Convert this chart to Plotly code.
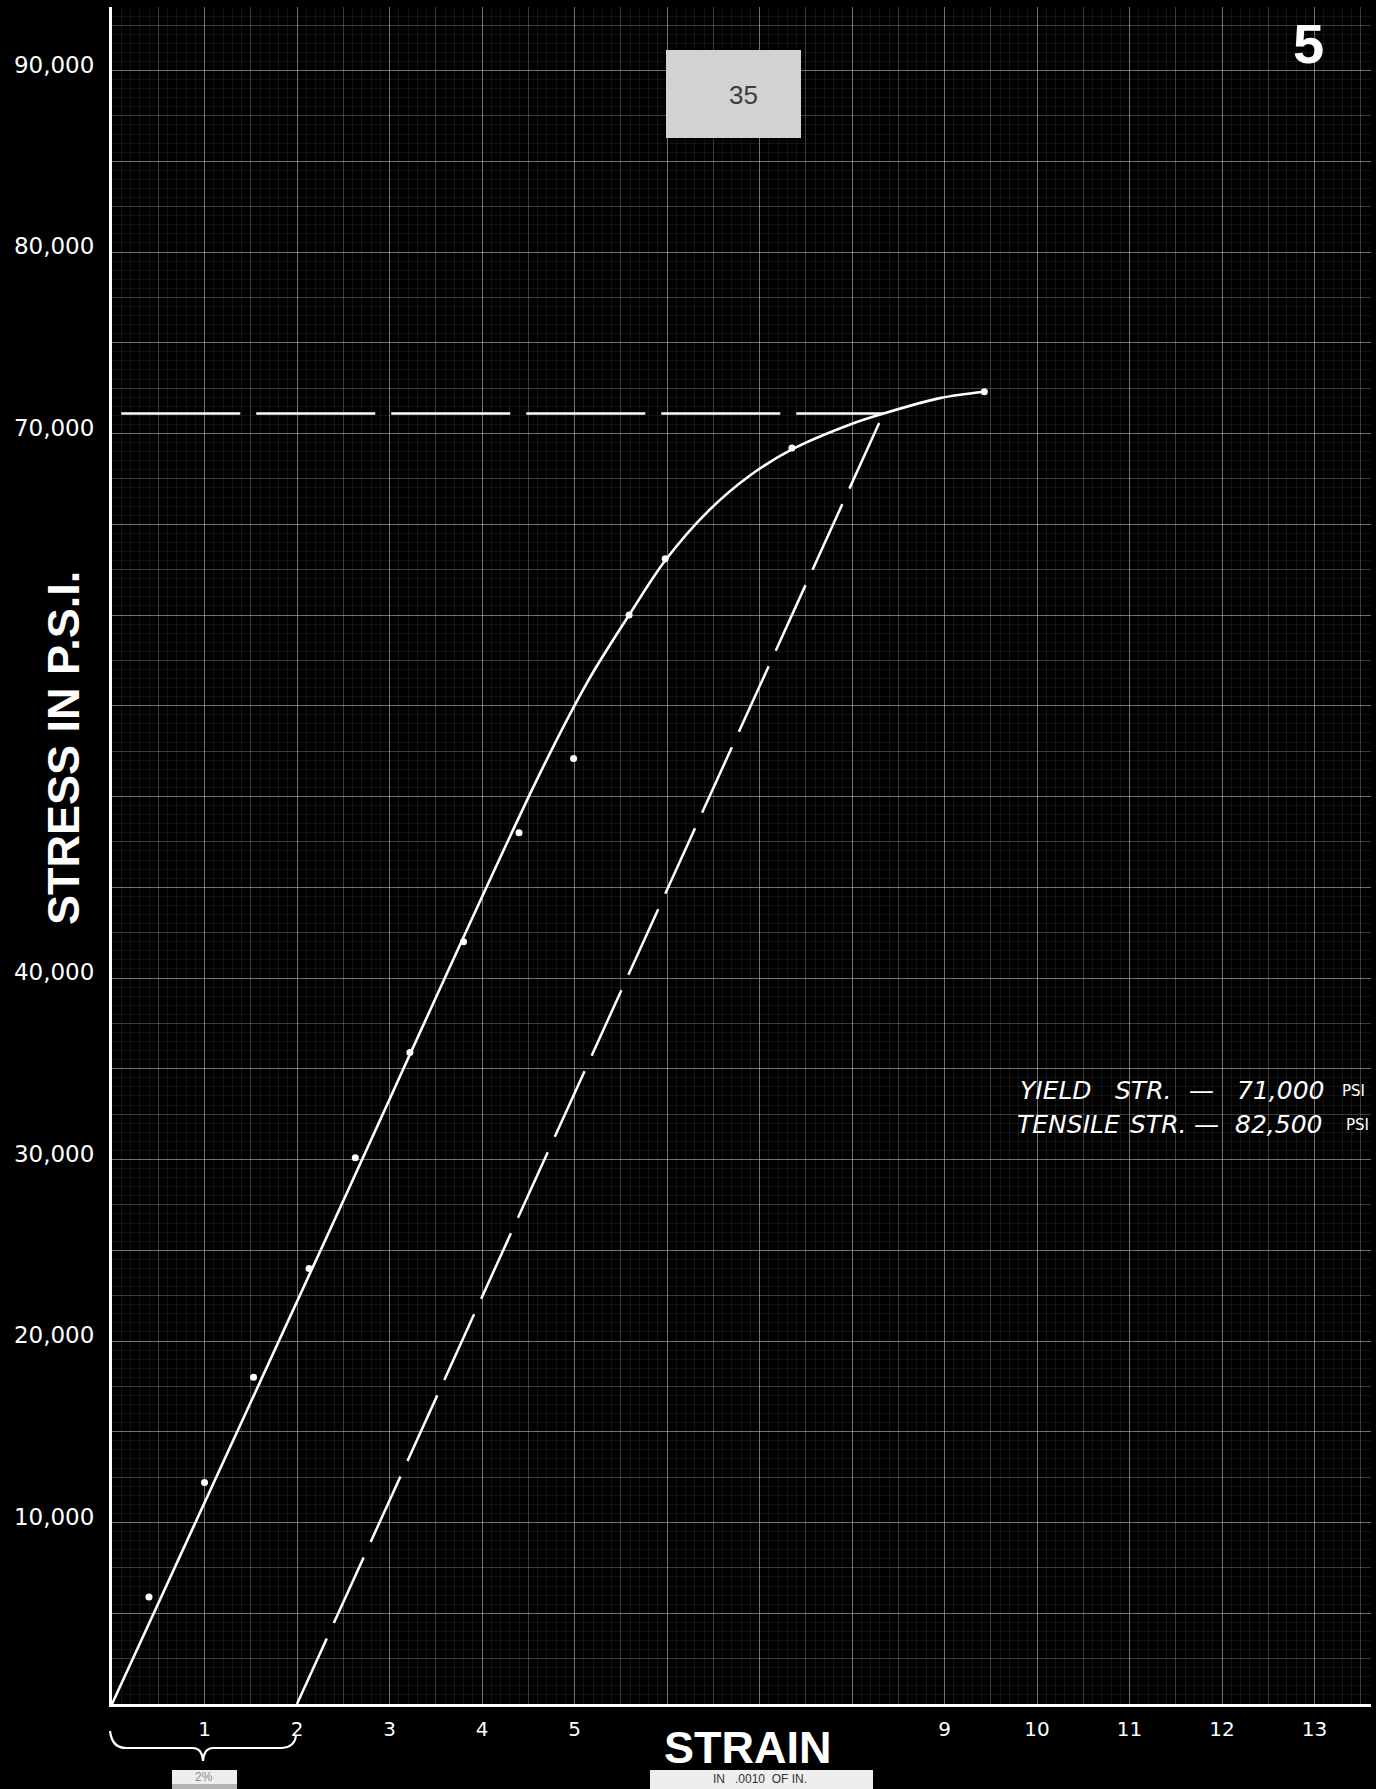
import plotly.graph_objects as go

# ---------------- data ----------------
# measured test points (strain in .0010 in., stress in psi)
point_strain = [0.40, 1.00, 1.53, 2.13, 2.63, 3.22, 3.80, 4.40, 4.99, 5.59, 5.98, 7.35, 9.43]
point_stress = [5900, 12200, 18000, 24000, 30100, 35900, 42000, 48000, 52100, 60000, 63100, 69200, 72300]

# faired stress-strain curve
curve_strain = [0.0, 2.30, 4.60, 5.15, 5.59, 5.98, 6.44, 6.90, 7.36, 7.98, 8.34, 8.95, 9.43]
curve_stress = [0, 25500, 51000, 56400, 60000, 63000, 65700, 67700, 69150, 70500, 71100, 71950, 72300]

# 0.2% offset line and yield level
offset_strain = [2.0, 8.34]
offset_stress = [0, 71100]
yield_strain = [0.1, 8.34]
yield_stress = [71100, 71100]

# tick labels
x_tickvals = [1, 2, 3, 4, 5, 9, 10, 11, 12, 13]
x_ticktext = ["1", "2", "3", "4", "5", "9", "10", "11", "12", "13"]
y_tickvals = [10000, 20000, 30000, 40000, 70000, 80000, 90000]
y_ticktext = ["10,000", "20,000", "30,000", "40,000", "70,000", "80,000", "90,000"]

X_RANGE = [0, 13.61]
Y_RANGE = [0, 93500]

# ---------------- layout geometry ----------------
W, H = 1376, 1789
ML, MR, MT, MB = 112, 5, 7, 85
PW = W - ML - MR
PH = H - MT - MB


def fx(px):
    return (px - ML) / PW


def fy(py):
    return (H - MB - py) / PH


WHITE = "#ffffff"
MAJOR = "rgba(200,200,200,0.44)"
MEDIUM = "rgba(200,200,200,0.22)"
FINE = "rgba(200,200,200,0.09)"

fig = go.Figure()

# invisible traces to create the overlay grid axes
fig.add_trace(go.Scatter(x=[None], y=[None], xaxis="x2", yaxis="y2", showlegend=False, hoverinfo="skip"))
fig.add_trace(go.Scatter(x=[None], y=[None], xaxis="x3", yaxis="y3", showlegend=False, hoverinfo="skip"))

# yield level (dashed horizontal)
fig.add_trace(go.Scatter(
    x=yield_strain, y=yield_stress, mode="lines",
    line=dict(color=WHITE, width=2.5, dash="119px,16px"),
    showlegend=False, hoverinfo="skip"))

# offset line (dashed)
fig.add_trace(go.Scatter(
    x=offset_strain, y=offset_stress, mode="lines",
    line=dict(color=WHITE, width=2.5, dash="72px,17px"),
    showlegend=False, hoverinfo="skip"))

# faired curve
fig.add_trace(go.Scatter(
    x=curve_strain, y=curve_stress, mode="lines",
    line=dict(color=WHITE, width=2.6, shape="spline", smoothing=0.9),
    showlegend=False))

# measured points
fig.add_trace(go.Scatter(
    x=point_strain, y=point_stress, mode="markers",
    marker=dict(color=WHITE, size=7),
    showlegend=False))

label_font = dict(family="DejaVu Sans", size=23, color=WHITE)

fig.update_layout(
    width=W, height=H,
    margin=dict(l=ML, r=MR, t=MT, b=MB, pad=0),
    paper_bgcolor="#000000",
    plot_bgcolor="#000000",
    showlegend=False,
    xaxis=dict(
        range=X_RANGE, tickvals=x_tickvals, ticktext=x_ticktext,
        showgrid=False, zeroline=False,
        showline=True, linecolor=WHITE, linewidth=3,
        ticks="", ticklabelstandoff=5,
        tickfont=dict(family="DejaVu Sans", size=20, color=WHITE),
    ),
    yaxis=dict(
        range=Y_RANGE, tickvals=y_tickvals, ticktext=y_ticktext,
        showgrid=False, zeroline=False,
        showline=True, linecolor=WHITE, linewidth=3,
        ticks="", ticklabelstandoff=10, ticklabelshift=-6,
        tickfont=label_font,
    ),
    # major + fine grid
    xaxis2=dict(
        overlaying="x", anchor="y2", range=X_RANGE, tick0=0, dtick=1,
        showgrid=True, gridcolor=MAJOR, gridwidth=1.3,
        minor=dict(dtick=0.1, showgrid=True, gridcolor=FINE, gridwidth=1),
        showticklabels=False, ticks="", showline=False, zeroline=False,
    ),
    yaxis2=dict(
        overlaying="y", anchor="x2", range=Y_RANGE, tick0=0, dtick=5000,
        showgrid=True, gridcolor=MAJOR, gridwidth=1.3,
        minor=dict(dtick=500, showgrid=True, gridcolor=FINE, gridwidth=1),
        showticklabels=False, ticks="", showline=False, zeroline=False,
    ),
    # medium grid
    xaxis3=dict(
        overlaying="x", anchor="y3", range=X_RANGE, tick0=0, dtick=0.5,
        showgrid=True, gridcolor=MEDIUM, gridwidth=1,
        showticklabels=False, ticks="", showline=False, zeroline=False,
    ),
    yaxis3=dict(
        overlaying="y", anchor="x3", range=Y_RANGE, tick0=0, dtick=2500,
        showgrid=True, gridcolor=MEDIUM, gridwidth=1,
        showticklabels=False, ticks="", showline=False, zeroline=False,
    ),
)

shapes = []
annotations = []

# "35" stamp box
shapes.append(dict(type="rect", xref="paper", yref="paper",
                   x0=fx(666), x1=fx(801), y0=fy(138), y1=fy(50),
                   fillcolor="#d2d2d2", line=dict(width=0), layer="above"))
annotations.append(dict(text="35", xref="paper", yref="paper", x=fx(743), y=fy(95),
                        showarrow=False, xanchor="center", yanchor="middle",
                        font=dict(family="Liberation Sans", size=26, color="#3c3c3c")))

# sheet number "5"
annotations.append(dict(text="<b>5</b>", xref="paper", yref="paper", x=fx(1308), y=fy(43),
                        showarrow=False, xanchor="center", yanchor="middle",
                        font=dict(family="Liberation Sans", size=56, color=WHITE)))

# axis titles
annotations.append(dict(text="<b>STRESS IN P.S.I.</b>", xref="paper", yref="paper",
                        x=fx(63), y=fy(748), textangle=-90, showarrow=False,
                        xanchor="center", yanchor="middle",
                        font=dict(family="Liberation Sans", size=45, color=WHITE)))
annotations.append(dict(text="<b>STRAIN</b>", xref="paper", yref="paper",
                        x=fx(748), y=fy(1747), showarrow=False,
                        xanchor="center", yanchor="middle",
                        font=dict(family="Liberation Sans", size=45, color=WHITE)))

# strip under STRAIN: "IN .0010 OF IN."
shapes.append(dict(type="rect", xref="paper", yref="paper",
                   x0=fx(650), x1=fx(873), y0=fy(1789), y1=fy(1770),
                   fillcolor="#eeeeee", line=dict(width=0)))
annotations.append(dict(text="IN&nbsp;&nbsp;&nbsp;.0010&nbsp;&nbsp;OF IN.", xref="paper", yref="paper",
                        x=fx(760), y=fy(1779), showarrow=False,
                        xanchor="center", yanchor="middle",
                        font=dict(family="Liberation Sans", size=12, color="#333333")))

# "2%" strip under bracket
shapes.append(dict(type="rect", xref="paper", yref="paper",
                   x0=fx(172), x1=fx(237), y0=fy(1789), y1=fy(1770),
                   fillcolor="#eeeeee", line=dict(width=0)))
shapes.append(dict(type="rect", xref="paper", yref="paper",
                   x0=fx(172), x1=fx(237), y0=fy(1789), y1=fy(1784),
                   fillcolor="#b4b4b4", line=dict(width=0)))
annotations.append(dict(text="2%", xref="paper", yref="paper",
                        x=fx(204), y=fy(1777), showarrow=False,
                        xanchor="center", yanchor="middle",
                        font=dict(family="Liberation Sans", size=12, color="#8a8a8a")))

# curly bracket spanning strain 0..2 below the axis
def P(px, py):
    return f"{fx(px):.5f},{fy(py):.5f}"

brace = ("M " + P(110, 1731) + " Q " + P(112, 1748) + " " + P(126, 1748) +
         " L " + P(193, 1748) + " Q " + P(202, 1748) + " " + P(203, 1761) +
         " Q " + P(204, 1748) + " " + P(213, 1748) +
         " L " + P(282, 1748) + " Q " + P(295, 1747) + " " + P(296, 1735))
shapes.append(dict(type="path", xref="paper", yref="paper", path=brace,
                   line=dict(color=WHITE, width=2.2)))

# yield / tensile notes
note_font = dict(family="DejaVu Sans", size=25, color=WHITE)
small_font = dict(family="DejaVu Sans", size=15, color=WHITE)
note_rows = [
    (1090, [(1018, "YIELD"), (1113, "STR."), (1187, "—"), (1235, "71,000")], (1340, "PSI")),
    (1124, [(1015, "TENSILE"), (1128, "STR."), (1192, "—"), (1233, "82,500")], (1344, "PSI")),
]
for py, chunks, unit in note_rows:
    for px, txt in chunks:
        annotations.append(dict(text=f"<i>{txt}</i>", xref="paper", yref="paper",
                                x=fx(px), y=fy(py), showarrow=False,
                                xanchor="left", yanchor="middle", font=note_font))
    annotations.append(dict(text=unit[1], xref="paper", yref="paper",
                            x=fx(unit[0]), y=fy(py + 1), showarrow=False,
                            xanchor="left", yanchor="middle", font=small_font))

fig.update_layout(shapes=shapes, annotations=annotations)

page_js = ("document.documentElement.style.background='#000';"
           "document.body.style.margin='0';"
           "document.body.style.background='#000';"
           "document.body.style.overflow='hidden';")

fig.write_html("out.html", post_script=page_js, config={"displayModeBar": False})
